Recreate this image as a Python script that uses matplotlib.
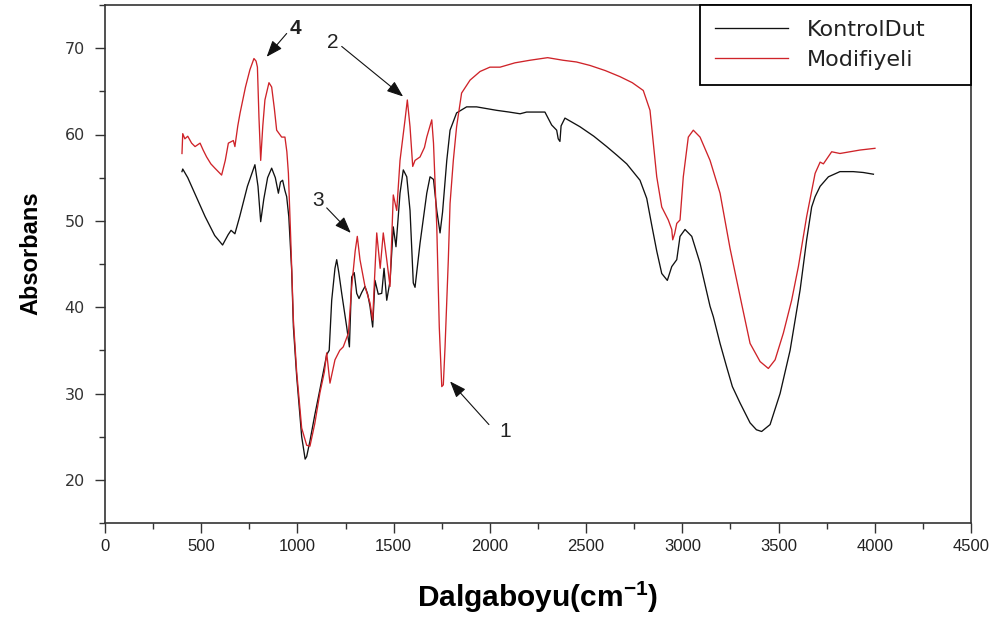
import matplotlib
matplotlib.use("Agg")
import matplotlib.pyplot as plt
from matplotlib.ticker import MultipleLocator

plt.rcParams['mathtext.fontset'] = 'custom'
plt.rcParams['mathtext.rm'] = 'Liberation Sans'
plt.rcParams['mathtext.bf'] = 'Liberation Sans:bold'

# ---- data ----
kontrol_wn = [400, 404, 430, 470, 520, 570, 611, 640, 655, 675, 700, 740, 779, 795, 809, 825, 845, 866,
              885, 901, 912, 923, 935, 944, 955, 970, 979, 996, 1022, 1040, 1048, 1065, 1090, 1117, 1152,
              1165, 1178, 1195, 1204, 1215, 1230, 1256, 1270, 1282, 1295, 1308, 1320, 1334, 1351, 1365,
              1377, 1391, 1403, 1420, 1438, 1450, 1464, 1481, 1498, 1512, 1533, 1550, 1568, 1585, 1602,
              1611, 1637, 1672, 1689, 1707, 1724, 1741, 1754, 1776, 1793, 1827, 1879, 1931, 1984, 2035,
              2100, 2157, 2191, 2286, 2321, 2347, 2355, 2364, 2370, 2390, 2468, 2540, 2607, 2660, 2711,
              2780, 2815, 2841, 2867, 2893, 2922, 2945, 2971, 2988, 3014, 3049, 3092, 3144, 3161, 3196,
              3230, 3260, 3300, 3352, 3385, 3412, 3456, 3508, 3560, 3612, 3646, 3672, 3690, 3716, 3759,
              3819, 3888, 3940, 3993]
kontrol_abs = [55.7, 56.0, 55.0, 53.0, 50.5, 48.3, 47.2, 48.4, 48.9, 48.5, 50.5, 54.0, 56.5, 54.0, 49.9,
               52.5, 55.0, 56.1, 55.0, 53.2, 54.5, 54.7, 53.5, 52.8, 50.5, 44.3, 37.7, 32.0, 25.0, 22.4,
               22.7, 24.5, 27.5, 30.5, 34.5, 35.0, 40.8, 44.5, 45.5, 44.0, 41.6, 37.7, 35.4, 43.5, 44.0,
               41.6, 41.0, 41.7, 42.4, 41.5, 40.1, 37.7, 43.1, 41.5, 41.6, 44.5, 40.8, 43.0, 49.3, 47.0,
               53.2, 55.9, 55.1, 51.2, 42.8, 42.3, 47.4, 53.2, 55.1, 54.8, 51.2, 48.6, 51.0, 57.0, 60.5,
               62.5, 63.2, 63.2, 63.0, 62.8, 62.6, 62.4, 62.6, 62.6, 61.1, 60.5, 59.5, 59.2, 61.0, 61.9,
               60.9, 59.8, 58.6, 57.6, 56.6, 54.7, 52.6, 49.5, 46.5, 43.9, 43.1, 44.7, 45.5, 48.2, 49.0,
               48.2, 45.1, 40.1, 38.9, 35.8, 33.1, 30.8, 28.9, 26.6, 25.8, 25.6, 26.4, 30.0, 35.0, 42.0,
               47.8, 51.6, 52.8, 54.0, 55.1, 55.7, 55.7, 55.6, 55.4]

modif_wn = [400, 404, 415, 430, 450, 468, 494, 510, 528, 550, 571, 606, 625, 641, 667, 675, 690, 702, 730,
            753, 774, 785, 792, 800, 809, 820, 831, 852, 866, 880, 892, 918, 935, 945, 953, 965, 979, 996,
            1022, 1048, 1065, 1090, 1117, 1140, 1152, 1169, 1195, 1220, 1238, 1265, 1282, 1300, 1311,
            1325, 1351, 1377, 1391, 1400, 1412, 1430, 1446, 1464, 1481, 1498, 1516, 1533, 1559, 1571,
            1585, 1599, 1611, 1637, 1660, 1672, 1698, 1707, 1724, 1737, 1750, 1758, 1767, 1784, 1793,
            1810, 1827, 1853, 1897, 1949, 2000, 2053, 2130, 2208, 2300, 2380, 2450, 2520, 2600, 2676,
            2740, 2797, 2832, 2849, 2867, 2893, 2927, 2945, 2950, 2960, 2971, 2988, 3005, 3031, 3057,
            3092, 3144, 3196, 3248, 3308, 3352, 3404, 3447, 3482, 3525, 3568, 3603, 3646, 3690, 3716,
            3733, 3776, 3819, 3871, 3923, 4001]
modif_abs = [57.8, 60.1, 59.5, 59.8, 59.0, 58.6, 59.0, 58.2, 57.4, 56.6, 56.1, 55.3, 57.0, 59.0, 59.3,
             58.6, 61.0, 62.5, 65.5, 67.5, 68.8, 68.5, 67.8, 62.0, 57.0, 61.0, 64.0, 66.0, 65.5, 63.0,
             60.5, 59.7, 59.7, 58.0, 55.5, 48.0, 38.5, 32.5, 26.0, 24.0, 23.9, 26.5, 30.1, 32.5, 34.7,
             31.2, 33.9, 35.0, 35.4, 37.0, 42.4, 46.5, 48.2, 45.5, 42.4, 40.5, 38.5, 43.0, 48.6, 44.5,
             48.6, 45.5, 42.4, 53.0, 51.2, 57.0, 61.7, 64.0, 60.9, 56.3, 57.0, 57.4, 58.5, 59.7, 61.7,
             59.0, 49.3, 37.7, 30.8, 31.0, 35.4, 45.5, 52.0, 57.0, 60.9, 64.8, 66.3, 67.3, 67.8, 67.8,
             68.3, 68.6, 68.9, 68.6, 68.4, 68.0, 67.4, 66.7, 66.0, 65.1, 62.8, 59.0, 55.1, 51.6, 50.1,
             49.0, 47.8, 48.5, 49.7, 50.1, 55.1, 59.7, 60.5, 59.7, 57.0, 53.2, 46.8, 40.4, 35.8, 33.7,
             32.9, 33.9, 37.0, 40.8, 44.7, 50.5, 55.5, 56.8, 56.6, 58.0, 57.8, 58.0, 58.2, 58.4]

series_labels = ["KontrolDut", "Modifiyeli"]
x_ticks = [0, 500, 1000, 1500, 2000, 2500, 3000, 3500, 4000, 4500]
y_ticks = [20, 30, 40, 50, 60, 70]

# peak annotations: label, label position, arrow tail, arrow tip (data coords)
ann_labels = ["4", "2", "3", "1"]
ann_text_xy = [(987, 72.3), (1185, 70.7), (1107, 52.4), (2079, 25.6)]
ann_tail_xy = [(944, 71.7), (1230, 70.2), (1152, 51.5), (1995, 26.4)]
ann_tip_xy = [(840, 69.0), (1549, 64.4), (1277, 48.6), (1793, 31.4)]

# ---- figure ----
fig = plt.figure(figsize=(10.05, 6.17), dpi=100)
ax = fig.add_axes([105 / 1005, 1 - 523 / 617, 866 / 1005, 518 / 617])

ax.plot(kontrol_wn, kontrol_abs, color="#111111", lw=0.95, label=series_labels[0])
ax.plot(modif_wn, modif_abs, color="#cf2329", lw=0.95, label=series_labels[1])

ax.set_xlim(0, 4500)
ax.set_ylim(15, 75)
ax.set_xticks(x_ticks)
ax.set_yticks(y_ticks)
ax.xaxis.set_minor_locator(MultipleLocator(250))
ax.yaxis.set_minor_locator(MultipleLocator(5))
ax.tick_params(which="major", direction="out", length=7.5, width=1.0, color="#333333", pad=4)
ax.tick_params(which="minor", direction="out", length=4, width=1.0, color="#333333")
ax.tick_params(axis="y", which="major", pad=7)
for s in ax.spines.values():
    s.set_linewidth(1.2)
    s.set_color("#333333")

for lab in ax.get_xticklabels():
    lab.set_fontfamily(["Liberation Sans Narrow", "Liberation Sans"])
    lab.set_fontsize(12)
    lab.set_color("#222222")
for lab in ax.get_yticklabels():
    lab.set_fontfamily(["DejaVu Sans"])
    lab.set_fontsize(11.5)
    lab.set_color("#333333")

ax.set_xlabel(r"Dalgaboyu(cm$^{\mathbf{-1}}$)", fontsize=21.5, fontweight="bold",
              family=["Liberation Sans Narrow", "Liberation Sans"])
ax.xaxis.set_label_coords(0.499, -0.108)
ax.set_ylabel("Absorbans", fontsize=17, fontweight="bold",
              family=["Liberation Sans Narrow", "Liberation Sans"])
ax.yaxis.set_label_coords(-0.072, 0.52)

for lab, txy, tail, tip in zip(ann_labels, ann_text_xy, ann_tail_xy, ann_tip_xy):
    ax.annotate("", xy=tip, xytext=tail,
                arrowprops=dict(arrowstyle="-|>,head_length=1.0,head_width=0.38",
                                color="#111111", lw=0.8, shrinkA=0, shrinkB=0))
    ax.text(txy[0], txy[1], lab, fontsize=15, ha="center", va="center",
            fontweight="bold" if lab == "4" else "normal",
            family=["Liberation Sans"], color="#222222")

leg_x0 = (700 - 105) / 866
leg = ax.legend(loc="upper right", bbox_to_anchor=(leg_x0, 0, 1 - leg_x0, 1), mode="expand",
                frameon=True, fancybox=False, edgecolor="black", framealpha=1,
                borderaxespad=0, borderpad=0.68, handlelength=3.3, handletextpad=0.85,
                labelspacing=0.45, prop={"family": "DejaVu Sans", "size": 16})
leg.get_frame().set_linewidth(1.3)
for t in leg.get_texts():
    t.set_color("#222222")

fig.savefig("out.png", dpi=100, facecolor="white")
